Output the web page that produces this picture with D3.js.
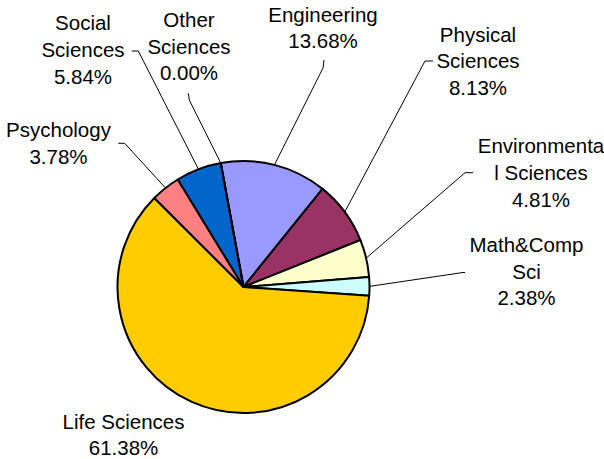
<!DOCTYPE html>
<html>
<head>
<meta charset="utf-8">
<script src="https://cdn.jsdelivr.net/npm/d3@7"></script>
<style>
  body { margin: 0; background: #fff; }
  text { font-family: "Liberation Sans", Arial, sans-serif; font-size: 20.5px; fill: #000; }
</style>
</head>
<body>
<div id="chart"></div>
<script>
// data, in the order the slices run clockwise
const fields = ['Engineering', 'Physical Sciences', 'Environmental Sciences', 'Math&Comp Sci',
    'Life Sciences', 'Psychology', 'Social Sciences', 'Other Sciences'];
const shares = [13.68, 8.13, 4.81, 2.38, 61.38, 3.78, 5.84, 0.00];
// how each label wraps in the original
const labelLines = [
    ['Engineering'], ['Physical', 'Sciences'], ['Environmenta', 'l Sciences'], ['Math&Comp', 'Sci'],
    ['Life Sciences'], ['Psychology'], ['Social', 'Sciences'], ['Other', 'Sciences']
];
const colors = ['#9999FF', '#993366', '#FFFFCC', '#CCFFFF', '#FFCC00', '#FF8080', '#0066CC', '#CCCCFF'];

// label placement (text centre x, first baseline y) and leader start / elbow
const labelLayout = {
    'Engineering': { x: 323, y: 21.5, attach: [324, 60], elbow: [323, 68] },
    'Physical Sciences': { x: 478, y: 41.5, attach: [433, 61], elbow: [425, 61] },
    'Environmental Sciences': { x: 541, y: 153.3, attach: [473, 172.7], elbow: [465, 172.7] },
    'Math&Comp Sci': { x: 526.5, y: 251.7, attach: [465, 272.5], elbow: [463, 272.5] },
    'Life Sciences': { x: 123.5, y: 429, lh: 25.5, attach: null },
    'Psychology': { x: 58.5, y: 136.7, attach: [118.3, 143.3], elbow: [124.7, 143.3] },
    'Social Sciences': { x: 83, y: 30, attach: [131.7, 51], elbow: [138.3, 51] },
    'Other Sciences': { x: 189, y: 26.7, attach: [188.3, 93.3], elbow: [189.3, 100] }
};

const width = 604, height = 459;
const cx = 243.5, cy = 287, radius = 126;
const lineH = 26.8;

const svg = d3.select('#chart')
    .append('svg')
    .attr('width', width)
    .attr('height', height);

const data = fields.map((f, i) => ({ field: f, value: shares[i], lines: labelLines[i], color: colors[i] }));

// first slice starts a little left of 12 o'clock
const pie = d3.pie()
    .sort(null)
    .value(d => d.value)
    .startAngle(-10.4 * Math.PI / 180)
    .endAngle((360 - 10.4) * Math.PI / 180);

const arcs = pie(data);

const arc = d3.arc().innerRadius(0).outerRadius(radius);

const g = svg.append('g')
    .attr('transform', 'translate(' + cx + ',' + cy + ')');

g.selectAll('path.slice')
    .data(arcs)
    .enter()
    .append('path')
    .attr('class', 'slice')
    .attr('d', arc)
    .attr('fill', d => d.data.color)
    .attr('stroke', '#000')
    .attr('stroke-width', 2)
    .attr('stroke-linejoin', 'round');

// leader lines go to the rim at the slice middle
const rimPoint = d => {
    const a = (d.startAngle + d.endAngle) / 2;
    return [cx + radius * Math.sin(a), cy - radius * Math.cos(a)];
};

const line = d3.line();

svg.selectAll('path.leader')
    .data(arcs.filter(d => labelLayout[d.data.field].attach))
    .enter()
    .append('path')
    .attr('class', 'leader')
    .attr('d', d => {
        const l = labelLayout[d.data.field];
        return line([l.attach, l.elbow, rimPoint(d)]);
    })
    .attr('fill', 'none')
    .attr('stroke', '#000')
    .attr('stroke-width', 1);

const fmt = d3.format('.2f');

const labels = svg.selectAll('text.label')
    .data(arcs)
    .enter()
    .append('text')
    .attr('class', 'label')
    .attr('text-anchor', 'middle');

labels.each(function (d) {
    const l = labelLayout[d.data.field];
    const rows = d.data.lines.concat([fmt(d.data.value) + '%']);
    d3.select(this).selectAll('tspan')
        .data(rows)
        .enter()
        .append('tspan')
        .attr('x', l.x)
        .attr('y', (r, i) => l.y + i * (l.lh || lineH))
        .text(r => r);
});
</script>
</body>
</html>
